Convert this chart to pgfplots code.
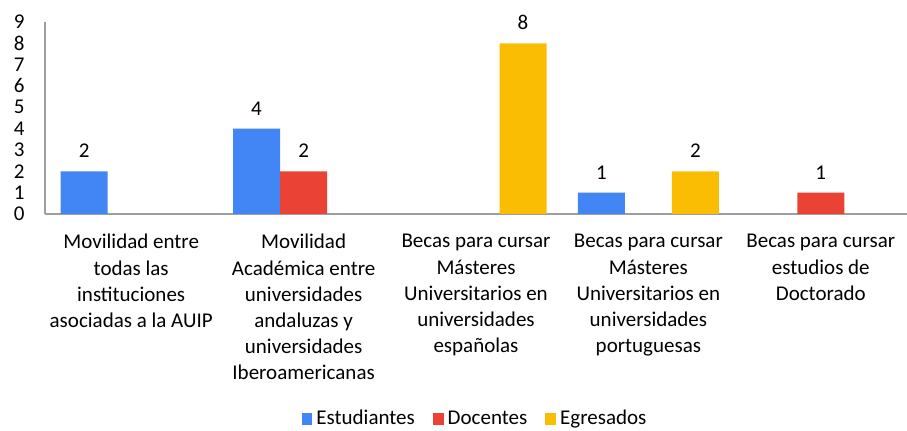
\documentclass[border=0pt]{standalone}
\usepackage{fontspec}
\setmainfont{Carlito}
\usepackage{pgfplots}
\pgfplotsset{compat=1.18}
\definecolor{cblue}{HTML}{4285F4}
\definecolor{cred}{HTML}{EA4335}
\definecolor{cyellow}{HTML}{FBBC04}
\definecolor{caxis}{HTML}{9E9E9E}
\begin{document}
\fontsize{10.5}{13.5}\selectfont
\begin{tikzpicture}
\begin{axis}[
  at={(0,0)}, anchor=south west,
  scale only axis, width=431pt, height=96pt,
  xmin=-0.5, xmax=4.5, ymin=0, ymax=9,
  ybar,
  axis x line=bottom, axis y line=left,
  axis line style={draw=caxis, line width=0.6pt, -},
  xtick={0,1,2,3,4},
  xticklabels={
    {Movilidad entre\\todas las\\instituciones\\asociadas a la AUIP},
    {Movilidad\\Académica entre\\universidades\\andaluzas y\\universidades\\Iberoamericanas},
    {Becas para cursar\\Másteres\\Universitarios en\\universidades\\españolas},
    {Becas para cursar\\Másteres\\Universitarios en\\universidades\\portuguesas},
    {Becas para cursar\\estudios de\\Doctorado}},
  xticklabel style={align=center, font=\fontsize{10.5}{13.1}\selectfont, yshift=-6.5pt},
  ytick={0,1,...,9},
  yticklabel style={font=\fontsize{10.5}{12}\selectfont, xshift=-6.5pt},
  major tick length=0pt,
  /pgf/number format/assume math mode=true,
  bar width=0.273,
  nodes near coords,
  nodes near coords style={font=\fontsize{10.5}{12}\selectfont, yshift=3pt},
  legend style={at={(0.5,-1.068)}, anchor=center, draw=none, legend columns=-1,
    font=\fontsize{10.5}{12}\selectfont,
    /tikz/every even column/.append style={column sep=7pt}},
  legend image code/.code={\fill[#1] (0pt,-2.8pt) rectangle (5.4pt,2.8pt);},
]
\addplot[bar shift=-0.273, fill=cblue, draw=none] coordinates {(0,2) (1,4) (3,1)};
\addplot[bar shift=0, fill=cred, draw=none] coordinates {(1,2) (4,1)};
\addplot[bar shift=0.273, fill=cyellow, draw=none] coordinates {(2,8) (3,2)};
\legend{Estudiantes, Docentes, Egresados}
\end{axis}
\pgfresetboundingbox
\path[use as bounding box] (-22.5pt,-108.5pt) rectangle (431pt,107pt);
\end{tikzpicture}
\end{document}
